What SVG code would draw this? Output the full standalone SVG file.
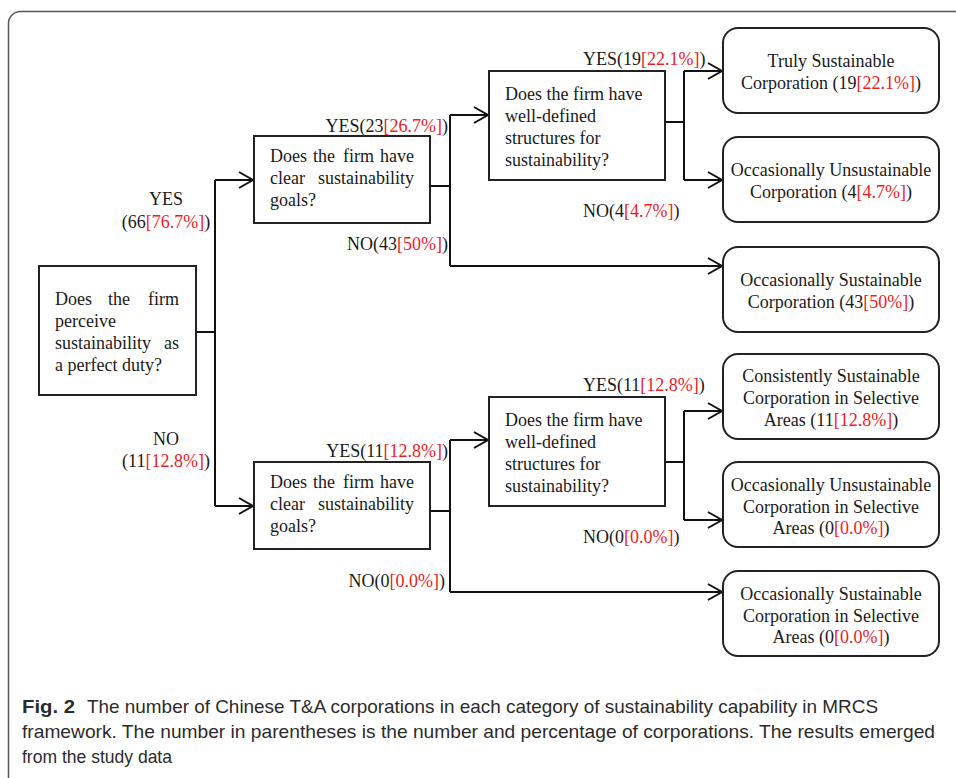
<svg xmlns="http://www.w3.org/2000/svg" width="956" height="778" viewBox="0 0 956 778">
<defs>
<marker id="arr" markerUnits="userSpaceOnUse" markerWidth="20" markerHeight="20" viewBox="-16 -10 20 20" refX="0" refY="0" orient="auto" overflow="visible">
<path d="M-14,-8 L0,0 L-14,8" fill="none" stroke="#111" stroke-width="2"/>
</marker>
</defs>
<style>
.frame{fill:none;stroke:#555;stroke-width:1.5}
.q{fill:#fff;stroke:#222;stroke-width:2}
.leaf{fill:#fff;stroke:#222;stroke-width:2}
.t{font-family:"Liberation Serif","Times New Roman",serif;font-size:18px;fill:#1a1a1a}
.c{text-anchor:middle}
.e{text-anchor:end}
.r{fill:#ed1c24}
.con{fill:none;stroke:#111;stroke-width:2}
.cap{font-family:"Liberation Sans",Arial,sans-serif;font-size:18.5px;fill:#2b2b2b}
.b{font-weight:bold}
</style>
<rect class="frame" x="8.5" y="11.5" width="970" height="800" rx="12"/>

<g id="connectors">
<path class="con" d="M196,332 H215 M215,180 V506 M430,186 H450 M450,115 V266 M665,122 H684 M684,71 V180 M430,511 H450 M450,440 V592 M665,462 H684 M684,411 V520"/>
<path class="con" marker-end="url(#arr)" d="M215,180 H253"/>
<path class="con" marker-end="url(#arr)" d="M215,506 H253"/>
<path class="con" marker-end="url(#arr)" d="M450,115 H488"/>
<path class="con" marker-end="url(#arr)" d="M450,266 H722"/>
<path class="con" marker-end="url(#arr)" d="M684,71 H722"/>
<path class="con" marker-end="url(#arr)" d="M684,180 H722"/>
<path class="con" marker-end="url(#arr)" d="M450,440 H488"/>
<path class="con" marker-end="url(#arr)" d="M450,592 H722"/>
<path class="con" marker-end="url(#arr)" d="M684,411 H722"/>
<path class="con" marker-end="url(#arr)" d="M684,520 H722"/>
</g>

<g id="edge-labels">
<text class="t c" x="166" y="205">YES</text>
<text class="t c" x="166" y="228">(66<tspan class="r">[76.7%]</tspan>)</text>
<text class="t c" x="166" y="445">NO</text>
<text class="t c" x="166" y="467">(11<tspan class="r">[12.8%]</tspan>)</text>
<text class="t e" x="448" y="132">YES(23<tspan class="r">[26.7%]</tspan>)</text>
<text class="t e" x="448" y="250">NO(43<tspan class="r">[50%]</tspan>)</text>
<text class="t e" x="448" y="457">YES(11<tspan class="r">[12.8%]</tspan>)</text>
<text class="t e" x="445" y="587">NO(0<tspan class="r">[0.0%]</tspan>)</text>
<text class="t" x="583" y="65">YES(19<tspan class="r">[22.1%]</tspan>)</text>
<text class="t" x="583" y="217">NO(4<tspan class="r">[4.7%]</tspan>)</text>
<text class="t" x="583" y="391">YES(11<tspan class="r">[12.8%]</tspan>)</text>
<text class="t" x="583" y="543">NO(0<tspan class="r">[0.0%]</tspan>)</text>
</g>

<g id="q1">
<rect class="q" x="39" y="266" width="157" height="129"/>
<text class="t" x="55" y="305">Does</text>
<text class="t" x="108" y="305">the</text>
<text class="t e" x="179" y="305">firm</text>
<text class="t" x="55" y="327">perceive</text>
<text class="t" x="55" y="349">sustainability</text>
<text class="t e" x="179" y="349">as</text>
<text class="t" x="55" y="371">a perfect duty?</text>
</g>

<g id="q2-yes">
<rect class="q" x="254" y="136" width="176" height="87"/>
<text class="t" x="270" y="162">Does</text>
<text class="t" x="313" y="162">the</text>
<text class="t" x="343" y="162">firm</text>
<text class="t e" x="414" y="162">have</text>
<text class="t" x="270" y="184">clear</text>
<text class="t e" x="414" y="184">sustainability</text>
<text class="t" x="270" y="206">goals?</text>
</g>

<g id="q2-no">
<rect class="q" x="254" y="462" width="176" height="87"/>
<text class="t" x="270" y="488">Does</text>
<text class="t" x="313" y="488">the</text>
<text class="t" x="343" y="488">firm</text>
<text class="t e" x="414" y="488">have</text>
<text class="t" x="270" y="510">clear</text>
<text class="t e" x="414" y="510">sustainability</text>
<text class="t" x="270" y="532">goals?</text>
</g>

<g id="q3-top">
<rect class="q" x="489" y="71" width="176" height="109"/>
<text class="t" x="505" y="100">Does the firm have</text>
<text class="t" x="505" y="122">well-defined</text>
<text class="t" x="505" y="144">structures for</text>
<text class="t" x="505" y="166">sustainability?</text>
</g>

<g id="q3-bottom">
<rect class="q" x="489" y="397" width="176" height="109"/>
<text class="t" x="505" y="426">Does the firm have</text>
<text class="t" x="505" y="448">well-defined</text>
<text class="t" x="505" y="470">structures for</text>
<text class="t" x="505" y="492">sustainability?</text>
</g>

<g id="leaf1">
<rect class="leaf" x="723" y="28" width="216" height="85" rx="15"/>
<text class="t c" x="831" y="67">Truly Sustainable</text>
<text class="t c" x="831" y="89">Corporation (19<tspan class="r">[22.1%]</tspan>)</text>
</g>

<g id="leaf2">
<rect class="leaf" x="723" y="137" width="216" height="85" rx="15"/>
<text class="t c" x="831" y="176">Occasionally Unsustainable</text>
<text class="t c" x="831" y="198">Corporation (4<tspan class="r">[4.7%]</tspan>)</text>
</g>

<g id="leaf3">
<rect class="leaf" x="723" y="247" width="216" height="85" rx="15"/>
<text class="t c" x="831" y="286">Occasionally Sustainable</text>
<text class="t c" x="831" y="308">Corporation (43<tspan class="r">[50%]</tspan>)</text>
</g>

<g id="leaf4">
<rect class="leaf" x="723" y="354" width="216" height="85" rx="15"/>
<text class="t c" x="831" y="382">Consistently Sustainable</text>
<text class="t c" x="831" y="404">Corporation in Selective</text>
<text class="t c" x="831" y="426">Areas (11<tspan class="r">[12.8%]</tspan>)</text>
</g>

<g id="leaf5">
<rect class="leaf" x="723" y="462" width="216" height="85" rx="15"/>
<text class="t c" x="831" y="491">Occasionally Unsustainable</text>
<text class="t c" x="831" y="513">Corporation in Selective</text>
<text class="t c" x="831" y="534">Areas (0<tspan class="r">[0.0%]</tspan>)</text>
</g>

<g id="leaf6">
<rect class="leaf" x="723" y="571" width="216" height="85" rx="15"/>
<text class="t c" x="831" y="600">Occasionally Sustainable</text>
<text class="t c" x="831" y="622">Corporation in Selective</text>
<text class="t c" x="831" y="643">Areas (0<tspan class="r">[0.0%]</tspan>)</text>
</g>

<g id="caption">
<text class="cap b" x="22" y="713" textLength="53" lengthAdjust="spacingAndGlyphs">Fig. 2</text>
<text class="cap" x="87" y="713" textLength="791" lengthAdjust="spacingAndGlyphs">The number of Chinese T&amp;A corporations in each category of sustainability capability in MRCS</text>
<text class="cap" x="22" y="738" textLength="913" lengthAdjust="spacingAndGlyphs">framework. The number in parentheses is the number and percentage of corporations. The results emerged</text>
<text class="cap" x="22" y="763" textLength="150" lengthAdjust="spacingAndGlyphs">from the study data</text>
</g>
</svg>
